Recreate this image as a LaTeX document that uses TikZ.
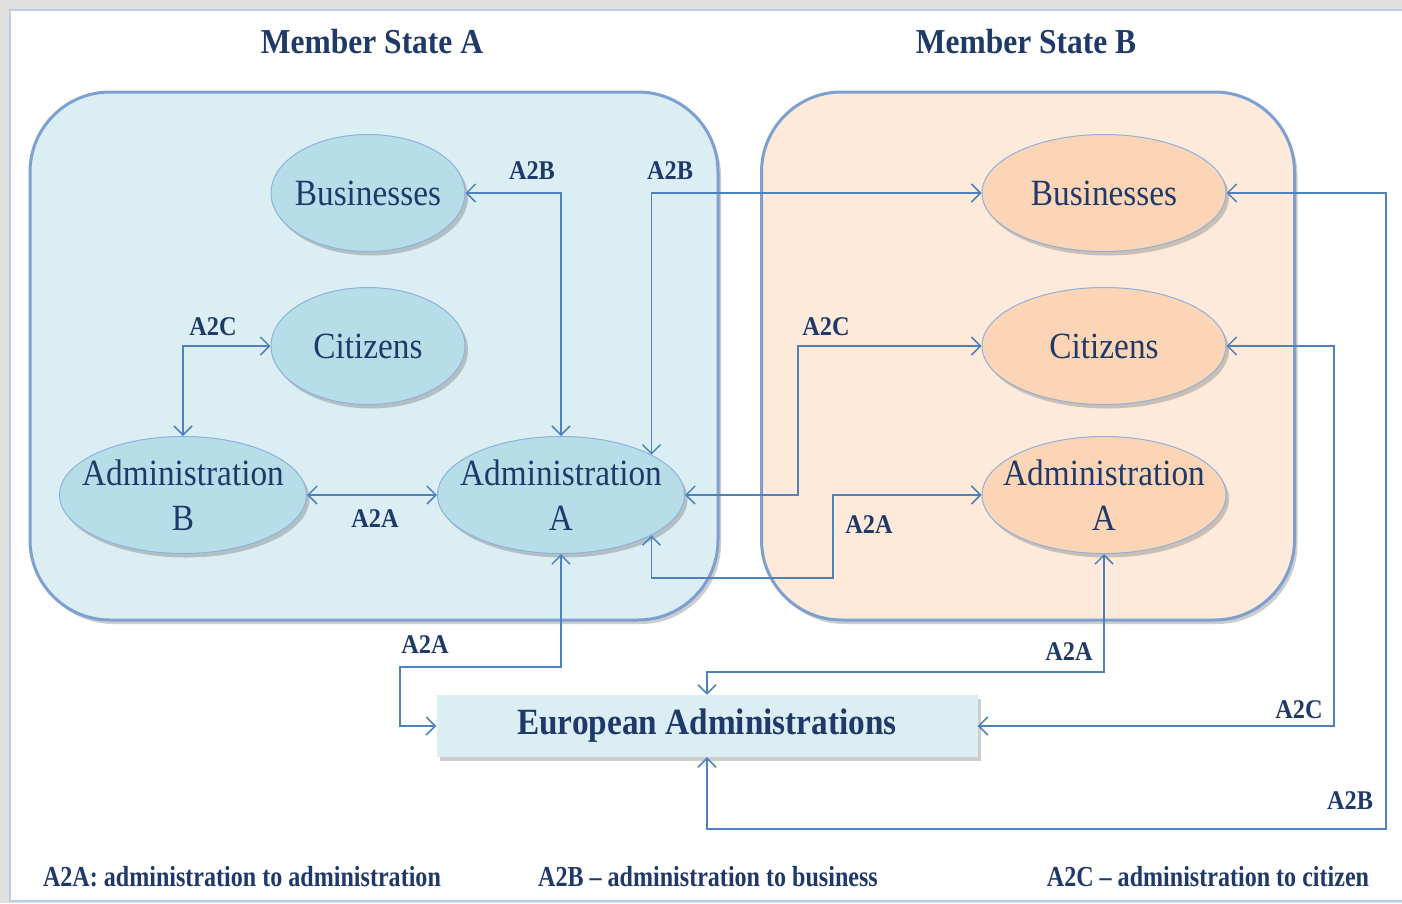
\documentclass[tikz,border=0pt]{standalone}
\usepackage{fontspec}
\setmainfont{Liberation Serif}[FakeStretch=0.9]
\newfontfamily\keyfont{Liberation Serif}[FakeStretch=0.83, Ligatures=TeX]
\usetikzlibrary{positioning}
\usetikzlibrary{shapes.geometric}
\usetikzlibrary{arrows.meta}
\usetikzlibrary{shadows}
\definecolor{panelA}{HTML}{DAEEF3}
\definecolor{panelB}{HTML}{FDEADA}
\definecolor{ellA}{HTML}{B7DDE8}
\definecolor{ellB}{HTML}{FBD5B5}
\definecolor{edge}{HTML}{7DA0D0}
\definecolor{ovaledge}{HTML}{8FB1DA}
\definecolor{linkc}{HTML}{4F81BD}
\definecolor{navy}{HTML}{1F3A68}
\definecolor{framec}{HTML}{B9CDE5}

\begin{document}
\begin{tikzpicture}[
  x=1pt, y=-1pt,
  shade/.style={drop shadow={shadow xshift=3pt, shadow yshift=-4pt, opacity=.28, fill=black!70}},
  panel/.style={draw=edge, line width=3pt, rounded corners=80pt, minimum height=528pt, shade},
  oval/.style={ellipse, draw=ovaledge, line width=1pt, inner xsep=-15pt, inner ysep=0pt,
    minimum height=117pt, align=center, text=navy, shade,
    font=\fontsize{37}{45}\selectfont},
  eubox/.style={fill=panelA, minimum width=541pt, minimum height=62pt, text=navy, shade,
    font=\bfseries\fontsize{37}{40}\selectfont},
  link/.style={draw=linkc, line width=1.5pt, >={Straight Barb[length=9pt,width=18pt]}, <->},
  lab/.style={text=navy, font=\bfseries\fontsize{27}{30}\selectfont},
  keytext/.style={text=navy, font=\keyfont\bfseries\fontsize{29}{32}\selectfont},
  title/.style={text=navy, font=\bfseries\fontsize{35}{40}\selectfont}
]
\useasboundingbox (0,0) rectangle (1402,903);

% Frame
\fill[black!12] (0,0) rectangle (1402,903);
\draw[framec, line width=1.5pt, fill=white] (10,10) rectangle (1412,901);

% Titles
\node[title] (tA) at (372,42) {Member State A};
\node[title] (tB) at (1026,42) {Member State B};

% Member state panels
\node[panel, fill=panelA, minimum width=688pt] (msA) at (374,356) {};
\node[panel, fill=panelB, minimum width=533pt] (msB) at (1028,356) {};

% Member State A
\node[oval, fill=ellA, minimum width=194pt] (busL)  at (368,193) {Businesses};
\node[oval, fill=ellA, minimum width=194pt] (citL)  at (368,346) {Citizens};
\node[oval, fill=ellA, minimum width=247pt] (admLB) at (183,495) {Administration\\B};
\node[oval, fill=ellA, minimum width=247pt] (admLA) at (561,495) {Administration\\A};

% Member State B
\node[oval, fill=ellB, minimum width=244pt] (busR)  at (1104,193) {Businesses};
\node[oval, fill=ellB, minimum width=244pt] (citR)  at (1104,346) {Citizens};
\node[oval, fill=ellB, minimum width=244pt] (admRA) at (1104,495) {Administration\\A};

% European level
\node[eubox] (euro) at (707,726) {European Administrations};

% Connectors inside A
\draw[link] (busL.east) -| (admLA.north);
\draw[link] (citL.west) -| (admLB.north);
\draw[link] (admLB.east) -- (admLA.west);

% Connectors between the states
\draw[link] (busR.west) -| (admLA.24);
\draw[link] (admLA.east) -- (798,495) |- (citR.west);
\draw[link] (admLA.-24) |- (833,578) |- (admRA.west);

% Connectors to European level
\draw[link] (admLA.south) |- (400,667) |- (euro.west);
\draw[link] (admRA.south) |- ([yshift=23pt]euro.north) -- (euro.north);
\draw[link] (citR.east) -- (1334,346) |- (euro.east);
\draw[link] (busR.east) -| (1386,829) -| (euro.south);

% Labels
\node[lab] (l1)  at (532,171)  {A2B};
\node[lab] (l2)  at (670,171)  {A2B};
\node[lab] (l3)  at (213,327)  {A2C};
\node[lab] (l4)  at (375,519)  {A2A};
\node[lab] (l5)  at (826,327)  {A2C};
\node[lab] (l6)  at (869,525)  {A2A};
\node[lab] (l7)  at (425,645)  {A2A};
\node[lab] (l8)  at (1069,652) {A2A};
\node[lab] (l9)  at (1299,710) {A2C};
\node[lab] (l10) at (1350,801) {A2B};

% Legend
\node[keytext] (k1) at (242,877)  {A2A: administration to administration};
\node[keytext] (k2) at (708,877)  {A2B – administration to business};
\node[keytext] (k3) at (1208,877) {A2C – administration to citizen};

\end{tikzpicture}
\end{document}
